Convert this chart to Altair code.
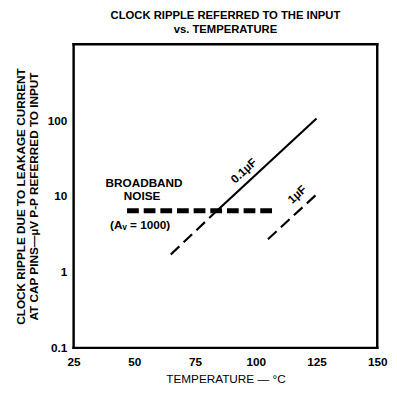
import altair as alt
import pandas as pd

# ---- data ----
x_ticks = [25, 50, 75, 100, 125, 150]
y_ticks = [0.1, 1, 10, 100]

c01_dash_x = [65, 84]
c01_dash_y = [1.7, 6.4]
c01_solid_x = [84, 125]
c01_solid_y = [6.4, 105]
c1_x = [105, 125]
c1_y = [2.7, 10.5]
noise_x = [47, 107]
noise_y = [6.4, 6.4]

label_text = ["BROADBAND", "NOISE", "(Aᵥ = 1000)"]
label_x = [54, 53.2, 52.4]
label_y = [14.7, 10.0, 4.2]

cap_text = ["0.1µF", "1µF"]
cap_x = [95, 117]
cap_y = [21.5, 10.5]

FONT = "Liberation Sans"
W, H = 310, 310

xs = alt.Scale(domain=[25, 150], nice=False, zero=False)
ys = alt.Scale(type="log", domain=[0.1, 1000], nice=False)

xax = alt.Axis(values=x_ticks, title="TEMPERATURE — °C", ticks=False, domain=False,
               grid=False, labelFont=FONT, labelFontSize=12, labelFontWeight="bold",
               labelColor="black", labelPadding=9, titleFont=FONT, titleFontSize=12,
               titleFontWeight="normal", titleColor="black", titlePadding=6,
               labelFlush=False)
yax = alt.Axis(values=y_ticks, labelExpr="datum.value < 1 ? '0.1' : format(datum.value, 'd')",
               title=["CLOCK RIPPLE DUE TO LEAKAGE CURRENT", "AT CAP PINS—µV P-P REFERRED TO INPUT"],
               ticks=False, domain=False, grid=False, labelFont=FONT, labelFontSize=12,
               labelFontWeight="bold", labelColor="black", labelPadding=7,
               titleFont=FONT, titleFontSize=12, titleFontWeight="bold", titleColor="black",
               titleLineHeight=13, titlePadding=7, labelFlush=False)


def seg(xv, yv):
    return pd.DataFrame({"x": xv, "y": yv})


base_enc = dict(
    x=alt.X("x:Q", scale=xs, axis=xax),
    y=alt.Y("y:Q", scale=ys, axis=yax),
)

l1 = alt.Chart(seg(c01_dash_x, c01_dash_y)).mark_line(
    color="black", strokeWidth=2.2, strokeDash=[12, 6], strokeCap="butt").encode(**base_enc)
l2 = alt.Chart(seg(c01_solid_x, c01_solid_y)).mark_line(
    color="black", strokeWidth=2.2).encode(x="x:Q", y="y:Q")
l3 = alt.Chart(seg(c1_x, c1_y)).mark_line(
    color="black", strokeWidth=2.2, strokeDash=[12, 6], strokeCap="butt").encode(x="x:Q", y="y:Q")
l4 = alt.Chart(seg(noise_x, noise_y)).mark_line(
    color="black", strokeWidth=5, strokeDash=[12, 5], strokeCap="butt").encode(x="x:Q", y="y:Q")

t1 = alt.Chart(pd.DataFrame({"x": label_x, "y": label_y, "t": label_text})).mark_text(
    font=FONT, fontSize=12, fontWeight="bold", color="black", align="center",
    baseline="middle").encode(x="x:Q", y="y:Q", text="t:N")

t2 = alt.Chart(pd.DataFrame({"x": cap_x, "y": cap_y, "t": cap_text})).mark_text(
    font=FONT, fontSize=12, fontWeight="bold", color="black", align="center",
    baseline="middle", angle=317).encode(x="x:Q", y="y:Q", text="t:N")

one = pd.DataFrame({"a": [0]})
frame_df = pd.DataFrame({"x1": [25, 25, 25, 150], "x2": [150, 150, 25, 150],
                         "y1": [0.1, 1000, 0.1, 0.1], "y2": [0.1, 1000, 1000, 1000]})
frame = alt.Chart(frame_df).mark_rule(color="black", strokeWidth=2.5, strokeCap="square").encode(
    x="x1:Q", x2="x2:Q", y="y1:Q", y2="y2:Q")

chart = alt.layer(frame, l1, l2, l3, l4, t1, t2).properties(
    width=W, height=H,
    title=alt.TitleParams(["CLOCK RIPPLE REFERRED TO THE INPUT", "vs. TEMPERATURE"],
                          font=FONT, fontSize=11.5, fontWeight="bold", color="black",
                          lineHeight=15, anchor="middle", offset=7),
    padding={"left": 67, "top": 33, "right": 12, "bottom": 37},
    autosize=alt.AutoSizeParams(type="none"),
    background="white",
).configure_view(strokeWidth=0)

chart.save("out.html", embed_options={"renderer": "svg", "actions": False})
